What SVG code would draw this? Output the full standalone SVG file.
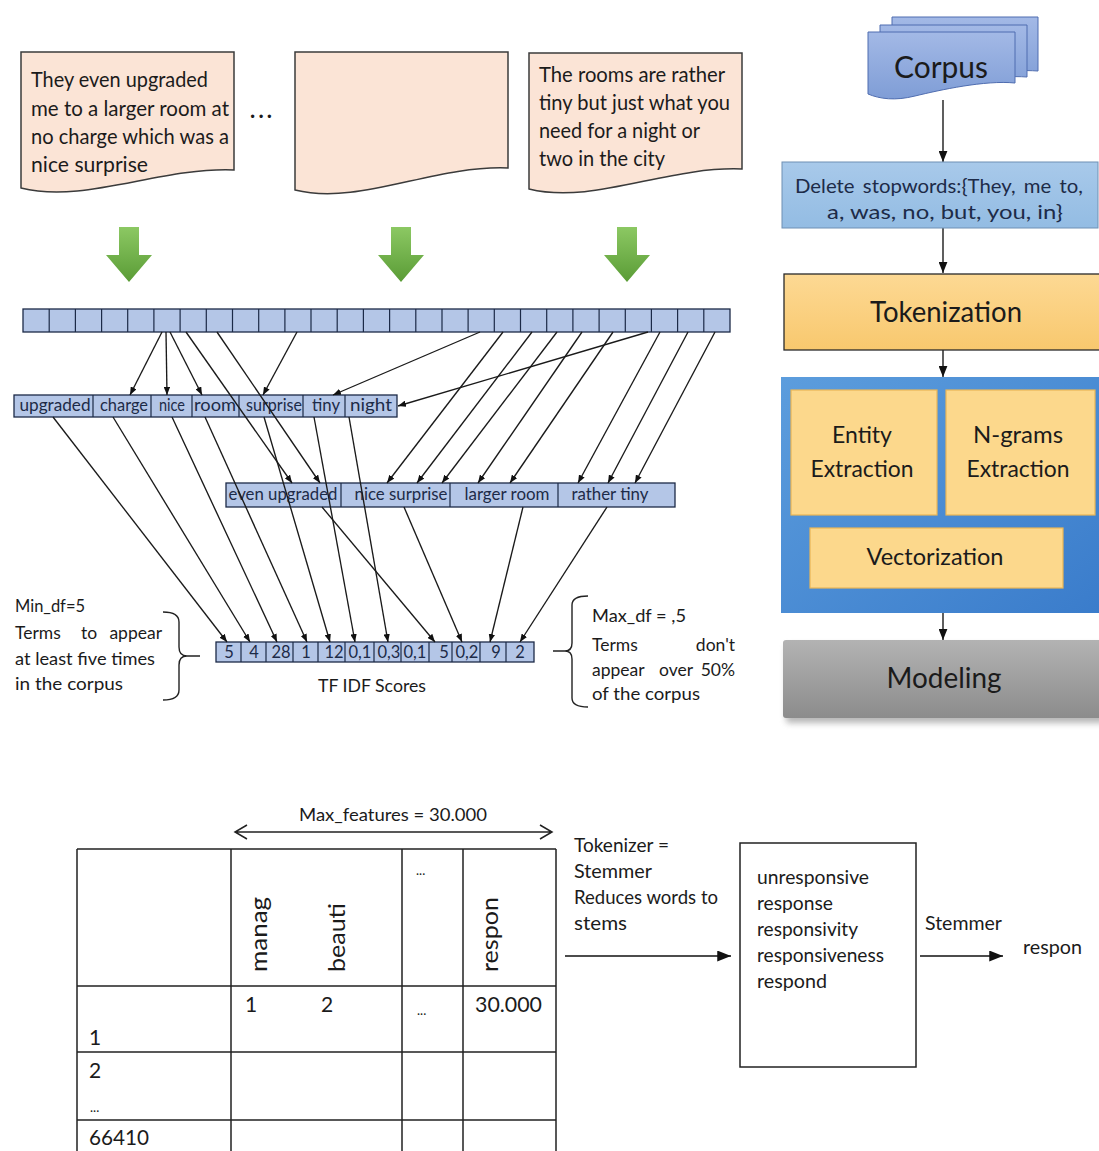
<svg xmlns="http://www.w3.org/2000/svg" width="1099" height="1151" viewBox="0 0 1099 1151">
  <defs>
    <style>
      .t { font-family: Lato, "Liberation Sans", sans-serif; fill: #1b1b1b; }
      .tb { font-family: Lato, "Liberation Sans", sans-serif; fill: #1d2b48; }
      .doc { fill: #fbe4d6; stroke: #3b3b3b; stroke-width: 1.5; }
      .bar { fill: #b4c6e7; stroke: #1c2a47; stroke-width: 1.3; }
      .div { stroke: #1c2a47; stroke-width: 1.2; fill: none; }
      .con { stroke: #1a1a1a; stroke-width: 1.35; fill: none; marker-end: url(#ah); }
      .flow { stroke: #1a1a1a; stroke-width: 1.4; fill: none; marker-end: url(#ahf); }
      .big { stroke: #111; stroke-width: 1.6; fill: none; marker-end: url(#ahb); }
      .grid { stroke: #222; stroke-width: 1.5; fill: none; }
      .brace { stroke: #222; stroke-width: 1.4; fill: none; }
      .corp { fill: url(#gCorpus); stroke: #4f6db0; stroke-width: 1; }
      .inner { fill: #fcd88c; stroke: #e9b656; stroke-width: 1.2; }
    </style>
    <marker id="ah" viewBox="0 0 10 8" refX="10" refY="4" markerWidth="8" markerHeight="6.5" markerUnits="userSpaceOnUse" orient="auto">
      <path d="M0,0 L10,4 L0,8 z" fill="#111"/>
    </marker>
    <marker id="ahf" viewBox="0 0 10 8" refX="10" refY="4" markerWidth="11" markerHeight="9" markerUnits="userSpaceOnUse" orient="auto">
      <path d="M0,0 L10,4 L0,8 z" fill="#111"/>
    </marker>
    <marker id="ahb" viewBox="0 0 10 8" refX="10" refY="4" markerWidth="14" markerHeight="11" markerUnits="userSpaceOnUse" orient="auto">
      <path d="M0,0 L10,4 L0,8 z" fill="#111"/>
    </marker>
    <linearGradient id="gGreen" x1="0" y1="0" x2="0" y2="1">
      <stop offset="0" stop-color="#8cc863"/>
      <stop offset="1" stop-color="#5a9c36"/>
    </linearGradient>
    <linearGradient id="gCorpus" x1="0" y1="0" x2="0" y2="1">
      <stop offset="0" stop-color="#a3b9e6"/>
      <stop offset="1" stop-color="#7f9dd6"/>
    </linearGradient>
    <linearGradient id="gDelete" x1="0" y1="0" x2="0" y2="1">
      <stop offset="0" stop-color="#a8c9ea"/>
      <stop offset="1" stop-color="#93bce3"/>
    </linearGradient>
    <linearGradient id="gToken" x1="0" y1="0" x2="0" y2="1">
      <stop offset="0" stop-color="#fdd994"/>
      <stop offset="1" stop-color="#f8c86e"/>
    </linearGradient>
    <linearGradient id="gBlue" x1="0" y1="0" x2="1" y2="1">
      <stop offset="0" stop-color="#5c9ddd"/>
      <stop offset="1" stop-color="#3a7ccb"/>
    </linearGradient>
    <linearGradient id="gGray" x1="0" y1="0" x2="0" y2="1">
      <stop offset="0" stop-color="#b3b3b3"/>
      <stop offset="1" stop-color="#8c8c8c"/>
    </linearGradient>
    <filter id="soft" x="-10%" y="-10%" width="120%" height="140%">
      <feGaussianBlur stdDeviation="3"/>
    </filter>
  </defs>

  <rect width="1099" height="1151" fill="#ffffff"/>

  <!-- review documents -->
  <g id="doc-1">
    <path class="doc" d="M21,52 H234 V170 C160,167 85,204 21,188 Z"/>
    <g class="t" font-size="21">
      <text x="31" y="87" textLength="177" lengthAdjust="spacingAndGlyphs">They even upgraded</text>
      <text x="31" y="116" textLength="198" lengthAdjust="spacingAndGlyphs">me to a larger room at</text>
      <text x="31" y="144" textLength="198" lengthAdjust="spacingAndGlyphs">no charge which was a</text>
      <text x="31" y="172" textLength="117" lengthAdjust="spacingAndGlyphs">nice surprise</text>
    </g>
  </g>
  <g id="ellipsis">
    <text class="t" font-size="22" font-weight="bold" x="250" y="118" textLength="22">...</text>
  </g>
  <g id="doc-2">
    <path class="doc" d="M295,52 H508 V168 C433,165 359,206 295,190 Z"/>
  </g>
  <g id="doc-3">
    <path class="doc" d="M529,53 H742 V169 C667,166 593,205 529,189 Z"/>
    <g class="t" font-size="21">
      <text x="539" y="82" textLength="186" lengthAdjust="spacingAndGlyphs">The rooms are rather</text>
      <text x="539" y="110" textLength="191" lengthAdjust="spacingAndGlyphs">tiny but just what you</text>
      <text x="539" y="138" textLength="161" lengthAdjust="spacingAndGlyphs">need for a night or</text>
      <text x="539" y="166" textLength="126" lengthAdjust="spacingAndGlyphs">two in the city</text>
    </g>
  </g>

  <!-- green block arrows -->
  <g id="green-arrows" fill="url(#gGreen)">
    <path d="M119,227 H139 V255 H152 L129,282 L106,255 H119 Z"/>
    <path d="M391,227 H411 V255 H424 L401,282 L378,255 H391 Z"/>
    <path d="M617,227 H637 V255 H650 L627,282 L604,255 H617 Z"/>
  </g>

  <!-- token vector -->
  <g id="token-vector">
    <rect class="bar" x="23" y="309" width="707" height="23"/>
    <path class="div" d="M49.2,309V332 M75.4,309V332 M101.6,309V332 M127.7,309V332 M153.9,309V332 M180.1,309V332 M206.3,309V332 M232.5,309V332 M258.7,309V332 M284.9,309V332 M311,309V332 M337.2,309V332 M363.4,309V332 M389.6,309V332 M415.8,309V332 M442,309V332 M468.1,309V332 M494.3,309V332 M520.5,309V332 M546.7,309V332 M572.9,309V332 M599.1,309V332 M625.3,309V332 M651.4,309V332 M677.6,309V332 M703.8,309V332"/>
  </g>

  <!-- unigram vector -->
  <g id="unigrams">
    <rect class="bar" x="14" y="395" width="383" height="22"/>
    <path class="div" d="M93,395V417 M151,395V417 M192,395V417 M239,395V417 M303,395V417 M345,395V417"/>
    <g class="tb" font-size="16.5" text-anchor="middle">
      <text x="55" y="411" textLength="71" lengthAdjust="spacingAndGlyphs">upgraded</text>
      <text x="124" y="411" textLength="48" lengthAdjust="spacingAndGlyphs">charge</text>
      <text x="172" y="411" textLength="26" lengthAdjust="spacingAndGlyphs">nice</text>
      <text x="215" y="411" textLength="42" lengthAdjust="spacingAndGlyphs">room</text>
      <text x="274" y="411" textLength="56" lengthAdjust="spacingAndGlyphs">surprise</text>
      <text x="326" y="411" textLength="28" lengthAdjust="spacingAndGlyphs">tiny</text>
      <text x="371" y="411" textLength="42" lengthAdjust="spacingAndGlyphs">night</text>
    </g>
  </g>

  <!-- bigram vector -->
  <g id="bigrams">
    <rect class="bar" x="226" y="483" width="449" height="24"/>
    <path class="div" d="M341,483V507 M450,483V507 M558,483V507"/>
    <g class="tb" font-size="16.5" text-anchor="middle">
      <text x="283" y="500" textLength="109" lengthAdjust="spacingAndGlyphs">even upgraded</text>
      <text x="401" y="500" textLength="93" lengthAdjust="spacingAndGlyphs">nice surprise</text>
      <text x="507" y="500" textLength="85" lengthAdjust="spacingAndGlyphs">larger room</text>
      <text x="610" y="500" textLength="77" lengthAdjust="spacingAndGlyphs">rather tiny</text>
    </g>
  </g>

  <!-- tf-idf score vector -->
  <g id="tfidf-scores">
    <rect class="bar" x="216" y="642" width="318" height="20"/>
    <path class="div" d="M241,642V662 M266,642V662 M293,642V662 M318,642V662 M345,642V662 M374,642V662 M401,642V662 M429,642V662 M452,642V662 M480,642V662 M506,642V662"/>
    <g class="tb" font-size="16.5" text-anchor="middle">
      <text x="229" y="658">5</text>
      <text x="254" y="658">4</text>
      <text x="281" y="658">28</text>
      <text x="306" y="658">1</text>
      <text x="334" y="658">12</text>
      <text x="360" y="658">0,1</text>
      <text x="389" y="658">0,3</text>
      <text x="415" y="658">0,1</text>
      <text x="444" y="658">5</text>
      <text x="467" y="658">0,2</text>
      <text x="496" y="658">9</text>
      <text x="520" y="658">2</text>
    </g>
    <text class="t" font-size="17" x="372" y="692" text-anchor="middle" textLength="108" lengthAdjust="spacingAndGlyphs">TF IDF Scores</text>
  </g>

  <!-- document-frequency notes -->
  <g id="min-df">
    <path class="brace" d="M163,612 Q179,612 179,622 V647 Q179,656 187,656 Q179,656 179,665 V690 Q179,700 163,700 M187,656 H200"/>
    <g class="t" font-size="17.5">
      <text x="15" y="612" textLength="70" lengthAdjust="spacingAndGlyphs">Min_df=5</text>
      <text x="15" y="639">Terms</text>
      <text x="81" y="639">to</text>
      <text x="162" y="639" text-anchor="end">appear</text>
      <text x="15" y="665" textLength="140" lengthAdjust="spacingAndGlyphs">at least five times</text>
      <text x="15" y="690" textLength="108" lengthAdjust="spacingAndGlyphs">in the corpus</text>
    </g>
  </g>
  <g id="max-df">
    <path class="brace" d="M588,596 Q572,596 572,605 V643 Q572,651 565,651 Q572,651 572,659 V698 Q572,707 588,707 M553,651 H565"/>
    <g class="t" font-size="17.5">
      <text x="592" y="622" textLength="94" lengthAdjust="spacingAndGlyphs">Max_df = ,5</text>
      <text x="592" y="651">Terms</text>
      <text x="735" y="651" text-anchor="end">don't</text>
      <text x="592" y="676">appear</text>
      <text x="676" y="676" text-anchor="middle">over</text>
      <text x="735" y="676" text-anchor="end">50%</text>
      <text x="592" y="700" textLength="108" lengthAdjust="spacingAndGlyphs">of the corpus</text>
    </g>
  </g>

  <!-- mapping connectors -->
  <g id="connectors">
    <path class="con" d="M162,332 L130,395"/>
    <path class="con" d="M166,332 L167,395"/>
    <path class="con" d="M170,332 L202,395"/>
    <path class="con" d="M297,332 L263,395"/>
    <path class="con" d="M480,332 L333,395"/>
    <path class="con" d="M648,332 L398,406"/>
    <path class="con" d="M186,332 L292,483"/>
    <path class="con" d="M217,332 L320,483"/>
    <path class="con" d="M503,332 L387,483"/>
    <path class="con" d="M532,332 L417,483"/>
    <path class="con" d="M557,332 L442,483"/>
    <path class="con" d="M582,332 L478,483"/>
    <path class="con" d="M613,332 L510,483"/>
    <path class="con" d="M660,332 L578,483"/>
    <path class="con" d="M688,332 L608,483"/>
    <path class="con" d="M715,332 L635,483"/>
    <path class="con" d="M53,417 L227,642"/>
    <path class="con" d="M113,417 L250,642"/>
    <path class="con" d="M172,417 L277,642"/>
    <path class="con" d="M205,417 L307,642"/>
    <path class="con" d="M264,417 L330,642"/>
    <path class="con" d="M314,417 L355,642"/>
    <path class="con" d="M349,417 L388,642"/>
    <path class="con" d="M322,507 L435,642"/>
    <path class="con" d="M404,507 L462,642"/>
    <path class="con" d="M523,507 L490,642"/>
    <path class="con" d="M607,507 L520,642"/>
    <path class="flow" d="M943,100 V162"/>
    <path class="flow" d="M943,228 V273"/>
    <path class="flow" d="M943,350 V377"/>
    <path class="flow" d="M943,613 V640"/>
    <path class="big" d="M565,956 H731"/>
    <path class="big" d="M920,956 H1003"/>
    <path class="grid" d="M235,832 H552 M247,825 L235,832 L247,839 M540,825 L552,832 L540,839"/>
  </g>

  <!-- pipeline -->
  <g id="corpus">
    <path class="corp" d="M892,17 H1038 V71 C1010,69 960,74 940,80 C920,86 905,86 892,82 Z"/>
    <path class="corp" d="M880,25 H1027 V77 C1000,75 950,81 930,87 C910,93 895,93 880,89 Z"/>
    <path class="corp" d="M868,32 H1015 V83 C985,80 940,90 915,96 C895,101 880,99 868,94 Z"/>
    <text class="t" font-size="30" x="941" y="78" text-anchor="middle" fill="#15213d" textLength="94" lengthAdjust="spacingAndGlyphs">Corpus</text>
  </g>
  <g id="delete-stopwords">
    <rect x="782" y="162" width="316" height="66" fill="url(#gDelete)" stroke="#6f90b4" stroke-width="1"/>
    <text class="tb" font-size="20" x="939" y="193" text-anchor="middle" word-spacing="3" textLength="288" lengthAdjust="spacingAndGlyphs">Delete stopwords:{They, me to,</text>
    <text class="tb" font-size="20" x="945" y="219" text-anchor="middle" textLength="236" lengthAdjust="spacingAndGlyphs">a, was, no, but, you, in}</text>
  </g>
  <g id="tokenization">
    <rect x="784" y="274" width="320" height="76" fill="url(#gToken)" stroke="#2a2a2a" stroke-width="1.3"/>
    <text class="t" font-size="28" x="946" y="322" text-anchor="middle" textLength="152" lengthAdjust="spacingAndGlyphs">Tokenization</text>
  </g>
  <g id="feature-stage">
    <rect x="781" y="377" width="320" height="236" fill="url(#gBlue)"/>
    <g id="entity-extraction">
      <rect class="inner" x="791" y="390" width="146" height="125"/>
      <text class="t" font-size="23" x="862" y="443" text-anchor="middle">Entity</text>
      <text class="t" font-size="23" x="862" y="477" text-anchor="middle" textLength="103" lengthAdjust="spacingAndGlyphs">Extraction</text>
    </g>
    <g id="ngram-extraction">
      <rect class="inner" x="946" y="390" width="149" height="125"/>
      <text class="t" font-size="23" x="1018" y="443" text-anchor="middle" textLength="90" lengthAdjust="spacingAndGlyphs">N-grams</text>
      <text class="t" font-size="23" x="1018" y="477" text-anchor="middle" textLength="103" lengthAdjust="spacingAndGlyphs">Extraction</text>
    </g>
    <g id="vectorization">
      <rect class="inner" x="810" y="528" width="253" height="60"/>
      <text class="t" font-size="23" x="935" y="565" text-anchor="middle" textLength="137" lengthAdjust="spacingAndGlyphs">Vectorization</text>
    </g>
  </g>
  <g id="modeling">
    <rect x="786" y="645" width="320" height="78" rx="3" fill="#7a7a7a" opacity="0.55" filter="url(#soft)"/>
    <rect x="783" y="640" width="320" height="78" rx="3" fill="url(#gGray)"/>
    <text class="t" font-size="28" x="944" y="688" text-anchor="middle" fill="#222" textLength="115" lengthAdjust="spacingAndGlyphs">Modeling</text>
  </g>

  <!-- document-term matrix -->
  <g id="matrix">
    <text class="t" font-size="17" x="393" y="821" text-anchor="middle" textLength="188" lengthAdjust="spacingAndGlyphs">Max_features = 30.000</text>
    <path class="grid" d="M77,849 H556 M77,986 H556 M77,1052 H556 M77,1120 H556 M77,849 V1151 M231,849 V1151 M402,849 V1151 M463,849 V1151 M556,849 V1151"/>
    <g class="t" font-size="24">
      <text transform="translate(267,972) rotate(-90)" textLength="75" lengthAdjust="spacingAndGlyphs">manag</text>
      <text transform="translate(345,972) rotate(-90)" textLength="69" lengthAdjust="spacingAndGlyphs">beauti</text>
      <text transform="translate(498,972) rotate(-90)" textLength="75" lengthAdjust="spacingAndGlyphs">respon</text>
    </g>
    <g class="t" font-size="21">
      <text x="245" y="1012">1</text>
      <text x="321" y="1012">2</text>
      <text x="475" y="1012" textLength="67" lengthAdjust="spacingAndGlyphs">30.000</text>
      <text x="89" y="1045">1</text>
      <text x="89" y="1078">2</text>
      <text x="89" y="1145" textLength="60" lengthAdjust="spacingAndGlyphs">66410</text>
    </g>
    <g class="t" font-size="13">
      <text x="416" y="875">...</text>
      <text x="417" y="1015">...</text>
      <text x="90" y="1112">...</text>
    </g>
  </g>

  <!-- stemming -->
  <g id="tokenizer-note">
    <g class="t" font-size="18.5">
      <text x="574" y="852" textLength="95" lengthAdjust="spacingAndGlyphs">Tokenizer =</text>
      <text x="574" y="878" textLength="78" lengthAdjust="spacingAndGlyphs">Stemmer</text>
      <text x="574" y="904" textLength="144" lengthAdjust="spacingAndGlyphs">Reduces words to</text>
      <text x="574" y="930" textLength="53" lengthAdjust="spacingAndGlyphs">stems</text>
    </g>
  </g>
  <g id="word-forms">
    <rect x="740" y="843" width="176" height="224" fill="#fff" stroke="#222" stroke-width="1.5"/>
    <g class="t" font-size="18.5">
      <text x="757" y="884" textLength="112" lengthAdjust="spacingAndGlyphs">unresponsive</text>
      <text x="757" y="910" textLength="76" lengthAdjust="spacingAndGlyphs">response</text>
      <text x="757" y="936" textLength="101" lengthAdjust="spacingAndGlyphs">responsivity</text>
      <text x="757" y="962" textLength="127" lengthAdjust="spacingAndGlyphs">responsiveness</text>
      <text x="757" y="988" textLength="70" lengthAdjust="spacingAndGlyphs">respond</text>
    </g>
  </g>
  <g id="stem-result">
    <text class="t" font-size="18.5" x="925" y="930" textLength="77" lengthAdjust="spacingAndGlyphs">Stemmer</text>
    <text class="t" font-size="18.5" x="1023" y="954" textLength="59" lengthAdjust="spacingAndGlyphs">respon</text>
  </g>
</svg>
